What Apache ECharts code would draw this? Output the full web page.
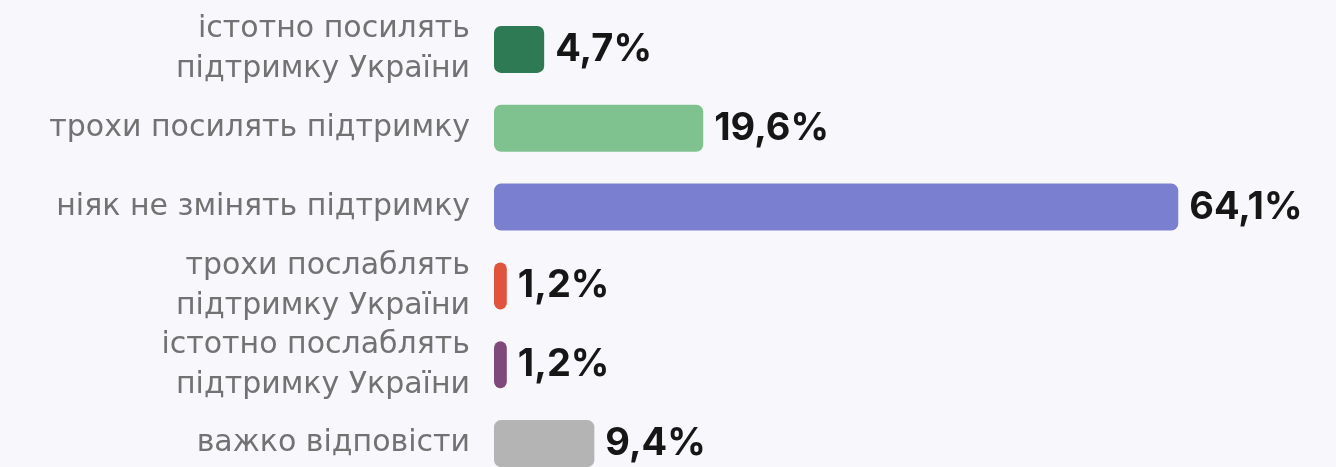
<!DOCTYPE html>
<html>
<head>
<meta charset="utf-8">
<script src="https://cdn.jsdelivr.net/npm/echarts@6/dist/echarts.min.js"></script>
<style>
  html, body { margin: 0; padding: 0; background: #f8f7fc; }
  #chart { width: 1336px; height: 467px; }
</style>
</head>
<body>
<div id="chart"></div>
<script>
const categories = [
  'істотно посилять\nпідтримку України',
  'трохи посилять підтримку',
  'ніяк не змінять підтримку',
  'трохи послаблять\nпідтримку України',
  'істотно послаблять\nпідтримку України',
  'важко відповісти'
];
const values = [4.7, 19.6, 64.1, 1.2, 1.2, 9.4];
const colors = ['#2e7a55', '#80c28f', '#7b7fcf', '#e0533d', '#7e4a7b', '#b4b4b4'];

var chart = echarts.init(document.getElementById('chart'));

const option = {
  backgroundColor: '#f8f7fc',
  animation: false,
  grid: {
    left: 494,
    top: 10,
    width: 854,
    height: 473,
    containLabel: false,
    outerBoundsMode: 'none'
  },
  xAxis: {
    type: 'value',
    min: 0,
    max: 80,
    show: false
  },
  yAxis: {
    type: 'category',
    inverse: true,
    data: categories,
    axisLine: { show: false },
    axisTick: { show: false },
    axisLabel: {
      margin: 24,
      align: 'right',
      fontFamily: 'DejaVu Sans',
      fontSize: 30,
      lineHeight: 40,
      color: '#727272',
      padding: [6, 0, 0, 0]
    }
  },
  series: [
    {
      type: 'bar',
      barWidth: 47,
      data: values.map((v, i) => ({
        value: v,
        itemStyle: { color: colors[i] }
      })),
      itemStyle: { borderRadius: 7 },
      label: {
        show: true,
        position: 'right',
        distance: 11,
        fontFamily: 'Inter',
        fontWeight: 'bold',
        fontSize: 38,
        color: '#161616',
        formatter: p => String(p.value).replace('.', ',') + '%'
      }
    }
  ]
};

chart.setOption(option);
</script>
</body>
</html>
